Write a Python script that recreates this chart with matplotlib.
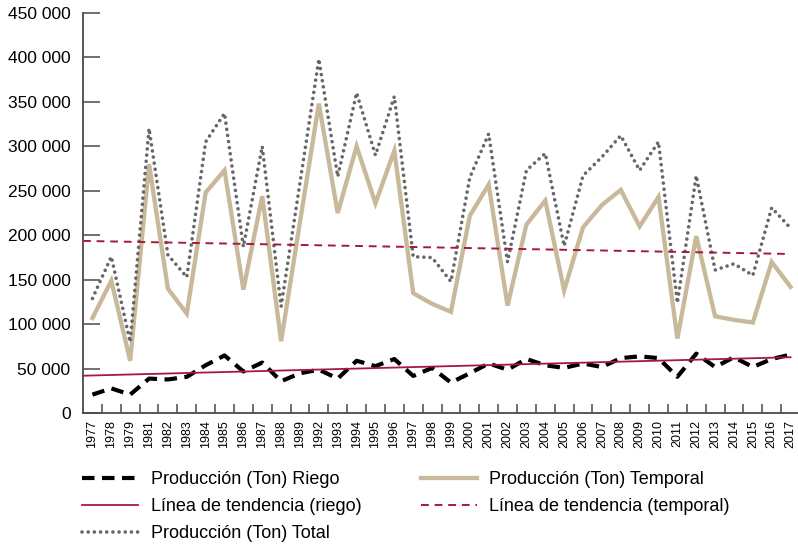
import matplotlib.pyplot as plt
import numpy as np

# production in tonnes
years = ['1977', '1978', '1979', '1981', '1982', '1983', '1984', '1985', '1986',
         '1987', '1988', '1989', '1992', '1993', '1994', '1995', '1996', '1997',
         '1998', '1999', '2000', '2001', '2002', '2003', '2004', '2005', '2006',
         '2007', '2008', '2009', '2010', '2011', '2012', '2013', '2014', '2015',
         '2016', '2017']
riego = [21, 28, 21, 39, 38, 41, 54, 65, 47, 57, 36, 45, 49, 39, 59, 53, 61, 42,
         51, 34.5, 45, 56, 49, 61, 54, 51, 56, 52, 62, 64, 62, 41, 67, 52, 63, 52,
         61, 66]
temporal = [107, 149, 59, 280, 140, 112, 248, 273, 139, 244, 81, 215, 348, 225,
            300, 236, 295, 135, 123, 114, 222, 257, 121, 212, 239, 138, 209, 234,
            251, 210, 243, 84, 199, 109, 105, 102, 170, 142]
total = [129, 176, 80, 320, 178, 153, 305, 337, 187, 300, 120, 259, 398, 266,
         360, 290, 356, 176, 175, 148, 265, 314, 170, 273, 292, 188, 267, 288,
         312, 273, 305, 124, 267, 161, 168, 155, 231, 208]
# trend lines as drawn in the chart: value at 1977 and at 2017
trend_riego = [42.5, 63]
trend_temporal = [193.5, 179]

labels = ['Producción (Ton) Riego', 'Línea de tendencia (riego)',
          'Producción (Ton) Total', 'Producción (Ton) Temporal',
          'Línea de tendencia (temporal)']

TAN = '#C9B99B'
GREY = '#666666'
RED = '#A6193C'
AXIS = '#4A4A4A'
FONT = 'Liberation Sans'


def main():
    x = np.arange(len(years))
    riego_t = np.array(riego) * 1000
    temporal_t = np.array(temporal) * 1000
    total_t = np.array(total) * 1000

    fig = plt.figure(figsize=(7.98, 5.59), dpi=100)
    ax = fig.add_axes([83 / 798, 145.7 / 559, 717 / 798, 400.5 / 559])

    l_temp, = ax.plot(x, temporal_t, color=TAN, lw=3.1, solid_joinstyle='miter',
                      zorder=2)
    l_tot, = ax.plot(x, total_t, color=GREY, lw=2.6, linestyle=(0, (0.01, 1.7)),
                     dash_capstyle='round', zorder=3)
    l_rie, = ax.plot(x, riego_t, color='black', lw=3, linestyle=(0, (3, 1.8)),
                     zorder=3)

    # linear trend lines, stretched back to the y axis
    xe = np.array([0, x[-1]])
    xt = np.array([-0.5, x[-1]])
    p_r = np.polyfit(xe, np.array(trend_riego) * 1000, 1)
    p_t = np.polyfit(xe, np.array(trend_temporal) * 1000, 1)
    l_tr, = ax.plot(xt, np.polyval(p_r, xt), color=RED, lw=1.3, zorder=4)
    l_tt, = ax.plot(xt, np.polyval(p_t, xt), color=RED, lw=1.4,
                    linestyle=(0, (4, 3)), zorder=4)

    ax.set_xlim(-0.5, len(years) - 0.5)
    ax.set_ylim(0, 450000)

    yt = np.arange(0, 450001, 50000)
    ax.set_yticks(yt, labels=[f'{v:,}'.replace(',', ' ') for v in yt],
                  family=FONT, fontsize=12.5)
    ax.tick_params(axis='y', direction='in', length=12.5, width=1.1,
                   color=AXIS, pad=9)

    ax.set_xticks(x[:-1] + 0.5, labels=[])
    ax.tick_params(axis='x', which='major', direction='in', length=6.5,
                   width=1.1, color=AXIS)
    ax.set_xticks(x, labels=years, minor=True, rotation=90,
                  family=FONT, fontsize=9)
    ax.tick_params(axis='x', which='minor', length=0, pad=5)

    for s in ['top', 'right']:
        ax.spines[s].set_visible(False)
    for s in ['left', 'bottom']:
        ax.spines[s].set_color(AXIS)
        ax.spines[s].set_linewidth(1.3)

    fig.legend([l_rie, l_tr, l_tot, l_temp, l_tt], labels, ncol=2,
               loc='upper left', bbox_to_anchor=(82 / 798, 1 - 471 / 559),
               frameon=False, borderpad=0, borderaxespad=0,
               handlelength=3.1, handletextpad=0.7, labelspacing=0.55,
               columnspacing=3.3,
               prop={'family': FONT, 'size': 13})

    fig.savefig('out.png', dpi=100)


if __name__ == '__main__':
    main()
